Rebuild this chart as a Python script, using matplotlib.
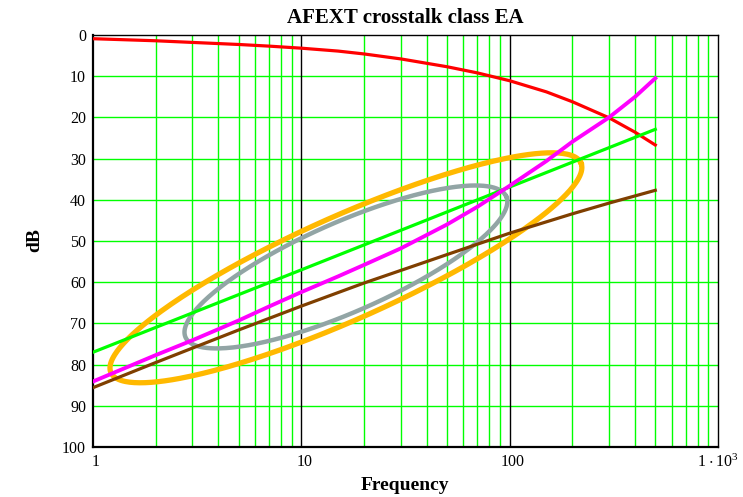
import numpy as np
import matplotlib
matplotlib.use("Agg")
import matplotlib.pyplot as plt
import matplotlib.transforms as mtransforms
from matplotlib.ticker import FixedLocator, NullFormatter

plt.rcParams['font.family'] = ['Liberation Serif', 'DejaVu Serif']
plt.rcParams['mathtext.fontset'] = 'custom'
plt.rcParams['mathtext.rm'] = 'Liberation Serif'

# ---------------- data ----------------
title = "AFEXT crosstalk class EA"
xlabel = "Frequency"
ylabel = "dB"

red_f = [1, 2, 3, 5, 7, 10, 15, 20, 30, 50, 70, 100, 150, 200, 300, 400, 500]
red_db = [0.9, 1.4, 1.8, 2.3, 2.7, 3.2, 3.9, 4.6, 5.8, 7.7, 9.2, 11.1, 13.8, 16.2, 20.1, 23.6, 26.7]

magenta_f = [1, 2, 3, 5, 7, 10, 15, 20, 30, 50, 70, 100, 150, 200, 300, 400, 500]
magenta_db = [84.1, 77.7, 74.1, 69.3, 65.9, 62.4, 58.6, 55.8, 51.8, 46.0, 41.7, 36.6, 30.6, 25.9, 20.0, 15.0, 10.5]

green_f = [1, 10, 100, 500]
green_db = [77.0, 57.0, 36.9, 22.9]

brown_f = [1, 2, 3, 5, 10, 20, 50, 100, 200, 300, 500]
brown_db = [85.6, 79.5, 76.0, 71.6, 65.8, 60.2, 53.3, 48.1, 43.4, 40.8, 37.7]

# ellipses: centre (log10 f, dB), conjugate half-axes U, V in (decades, dB)
orange_center = (1.214, 56.5)
orange_u = (1.128, -25.45)
orange_v = (0.101, 11.46)
gray_center = (1.214, 56.3)
gray_u = (0.770, -17.07)
gray_v = (0.0866, 9.98)

x_ticks = [1, 10, 100, 1000]
x_ticklabels = ["1", "10", "100", r"$\mathregular{1\cdot10^{3}}$"]
y_ticks = list(range(0, 101, 10))

# ---------------- figure ----------------
fig = plt.figure(figsize=(7.43, 4.97), dpi=100)
ax = fig.add_axes([93/743, 1-447/497, 625/743, 412/497])
ax.set_xscale('log')
ax.set_xlim(1, 1000)
ax.set_ylim(100, 0)

# grid
minor = [m * d for d in (1, 10, 100) for m in range(2, 10)]
for xv in minor:
    ax.axvline(xv, color='#00ff00', lw=1.0, zorder=1)
for xv in (10, 100):
    ax.axvline(xv, color='black', lw=1.0, zorder=1.5)
for yv in y_ticks[1:-1]:
    ax.axhline(yv, color='#00ff00', lw=1.0, zorder=1)

def ellipse(center, u, v):
    t = np.linspace(0, 2*np.pi, 400)
    lx = center[0] + u[0]*np.cos(t) + v[0]*np.sin(t)
    ly = center[1] + u[1]*np.cos(t) + v[1]*np.sin(t)
    return 10**lx, ly

ex, ey = ellipse(orange_center, orange_u, orange_v)
ax.plot(ex, ey, color='#ffb900', lw=3.8, zorder=2)
gx, gy = ellipse(gray_center, gray_u, gray_v)
ax.plot(gx, gy, color='#92a5a5', lw=3.2, zorder=2.1)

ax.plot(red_f, red_db, color='#ff0000', lw=2.3, zorder=3)
ax.plot(green_f, green_db, color='#00ff00', lw=2.3, zorder=3)
ax.plot(brown_f, brown_db, color='#7f3f00', lw=2.3, zorder=3)
ax.plot(magenta_f, magenta_db, color='#ff00ff', lw=2.8, zorder=3)

ax.xaxis.set_major_locator(FixedLocator(x_ticks))
ax.xaxis.set_minor_locator(FixedLocator([]))
ax.xaxis.set_minor_formatter(NullFormatter())
ax.set_xticks(x_ticks)
ax.set_xticklabels(x_ticklabels)
ax.set_yticks(y_ticks)
ax.set_yticklabels([str(v) for v in y_ticks])
ax.tick_params(axis='both', length=0, labelsize=11.5, colors='black')
ax.tick_params(axis='y', pad=5)
ax.tick_params(axis='x', pad=5)

offset = mtransforms.ScaledTranslation(3/100, 0, fig.dpi_scale_trans)
for lbl in ax.get_xticklabels()[:-1]:
    lbl.set_transform(lbl.get_transform() + offset)

for s in ('top', 'right'):
    ax.spines[s].set_linewidth(1.0)
    ax.spines[s].set_color('black')
for s in ('left', 'bottom'):
    ax.spines[s].set_linewidth(1.6)
    ax.spines[s].set_color('black')

fig.text(405/743, 1-18/497, title, ha='center', va='center',
         fontsize=15, fontweight='bold')
fig.text(405/743, 1-485/497, xlabel, ha='center', va='center',
         fontsize=14, fontweight='bold')
fig.text(35/743, 1-240/497, ylabel, ha='center', va='center',
         fontsize=14, fontweight='bold', rotation=90)

fig.savefig("out.png", dpi=100)
